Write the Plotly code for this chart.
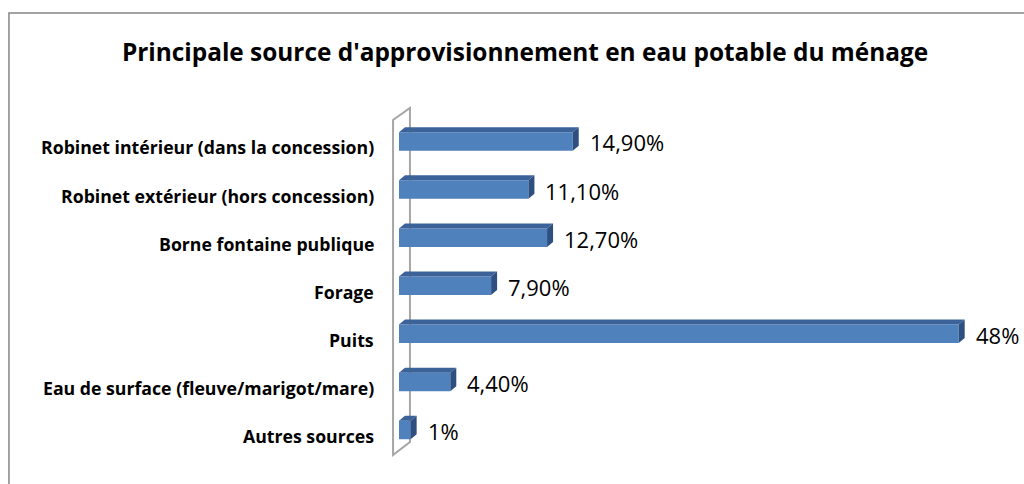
import plotly.graph_objects as go

categories = [
    "Robinet intérieur (dans la concession)",
    "Robinet extérieur (hors concession)",
    "Borne fontaine publique",
    "Forage",
    "Puits",
    "Eau de surface (fleuve/marigot/mare)",
    "Autres sources",
]
values = [14.9, 11.1, 12.7, 7.9, 48, 4.4, 1]
value_labels = ["14,90%", "11,10%", "12,70%", "7,90%", "48%", "4,40%", "1%"]
title_text = "Principale source d'approvisionnement en eau potable du ménage"

FRONT = "#4F81BD"
TOP = "#3C6399"
SIDE = "#2E5080"
WALL = "#A6A6A6"
FONT = "Open Sans"

idx = list(range(len(categories)))
h = 0.1925   # half bar thickness (category units)
dx = 0.514   # 3D depth in x data units
dy = 0.104   # 3D depth in category units

fig = go.Figure()
fig.add_trace(go.Bar(
    x=values, y=idx, orientation="h", width=2 * h,
    marker=dict(color=FRONT, line=dict(width=0)), hoverinfo="skip",
))

top_x, top_y, side_x, side_y = [], [], [], []
for i, v in zip(idx, values):
    top_x += [0, v, v + dx, dx, 0, None]
    top_y += [i - h, i - h, i - h - dy, i - h - dy, i - h, None]
    side_x += [v, v + dx, v + dx, v, v, None]
    side_y += [i - h, i - h - dy, i + h - dy, i + h, i - h, None]

fig.add_trace(go.Scatter(x=top_x, y=top_y, mode="lines", fill="toself",
                         fillcolor=TOP, line=dict(width=0, color=TOP), hoverinfo="skip"))
fig.add_trace(go.Scatter(x=side_x, y=side_y, mode="lines", fill="toself",
                         fillcolor=SIDE, line=dict(width=0, color=SIDE), hoverinfo="skip"))

for i, v, lab in zip(idx, values, value_labels):
    fig.add_annotation(x=v, y=i, text=lab, showarrow=False, xanchor="left",
                       xshift=15, yshift=-1,
                       font=dict(family=FONT, size=22, color="#000000"))

# category labels (slightly below the bar centres, as in the 3D projection)
for i, cat in zip(idx, categories):
    fig.add_annotation(x=0, xref="paper", y=i, yref="y", text=cat, showarrow=False,
                       xanchor="right", xshift=-9, yshift=-6,
                       font=dict(family=FONT, size=17.7, color="#000000", weight="bold"))

# 3D wall of the category axis
fig.add_shape(type="path", xref="x", yref="y",
              path="M -0.51 6.52 L -0.51 -0.447 L 0.94 -0.697 L 0.94 6.25 Z",
              line=dict(color=WALL, width=2), fillcolor="rgba(0,0,0,0)", layer="below")

# outer chart border
fig.add_shape(type="rect", xref="paper", yref="paper",
              x0=-0.595, y0=-0.2, x1=1.2, y1=1.23,
              line=dict(color="#868686", width=1.5))

fig.update_layout(
    width=1024, height=484,
    margin=dict(l=385, r=7, t=97, b=22),
    paper_bgcolor="white", plot_bgcolor="white",
    showlegend=False,
    title=dict(text=title_text, x=525 / 1024, xanchor="center",
               y=1 - 52 / 484, yanchor="middle",
               font=dict(family=FONT, size=24.4, color="#000000", weight="bold")),
    xaxis=dict(range=[-1.2, 53], visible=False, fixedrange=True),
    yaxis=dict(range=[6.666, -0.925], visible=False, fixedrange=True),
)

fig.write_html(
    "out.html",
    config={"displayModeBar": False},
    post_script="document.body.style.margin='0';document.body.style.overflow='hidden';",
)
